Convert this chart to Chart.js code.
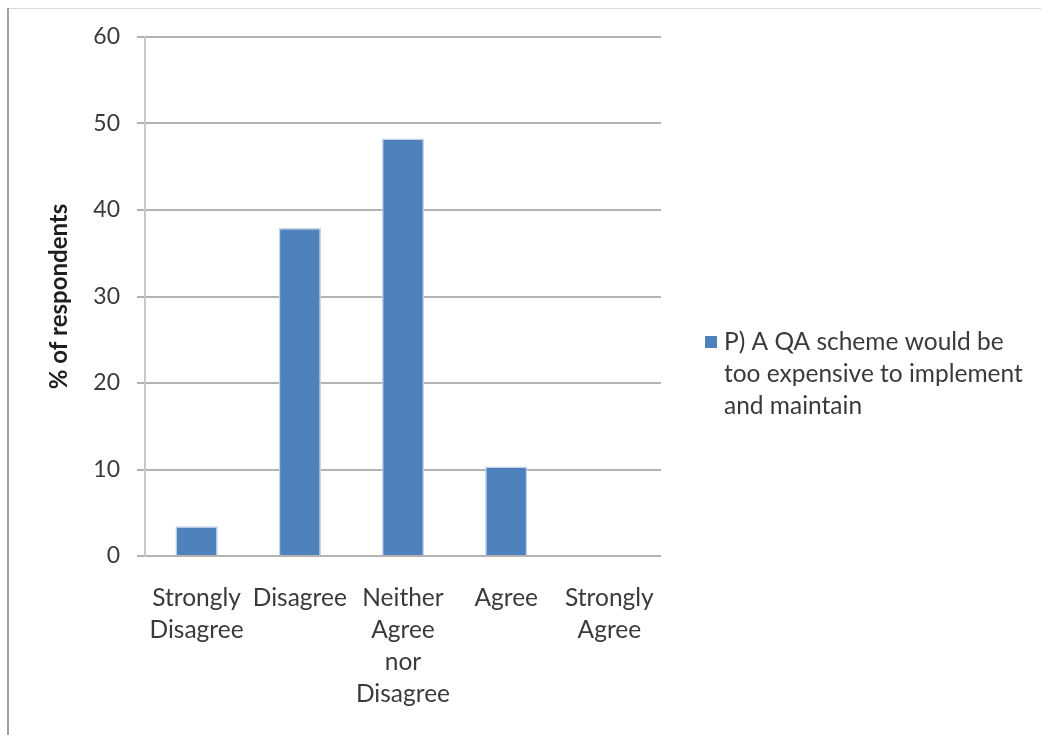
<!DOCTYPE html>
<html>
<head>
<meta charset="utf-8">
<script src="https://cdn.jsdelivr.net/npm/chart.js@4/dist/chart.umd.min.js"></script>
<style>
  html, body { margin: 0; padding: 0; background: #ffffff; }
  #wrap { position: absolute; left: 0; top: 0; width: 1041px; height: 735px; }
</style>
</head>
<body>
<div id="wrap"><canvas id="chart" width="1041" height="735"></canvas></div>
<script>
// Survey responses, % of respondents per answer
const categories = [
  ["Strongly", "Disagree"],
  ["Disagree"],
  ["Neither", "Agree", "nor", "Disagree"],
  ["Agree"],
  ["Strongly", "Agree"]
];
const seriesName = ["P) A QA scheme would be", "too expensive to implement", "and maintain"];
const respondentsPct = [3.45, 37.93, 48.28, 10.34, 0];
const yTicks = [0, 10, 20, 30, 40, 50, 60];

const FONT = "Lato, 'Open Sans', sans-serif";
const BAR_BLUE = "#4f81bd";
const TEXT = "#3a3a3a";

// Outer frame lines (left and top edges of the sheet)
const framePlugin = {
  id: "frame",
  beforeDraw(chart) {
    const ctx = chart.ctx;
    ctx.save();
    ctx.fillStyle = "#ffffff";
    ctx.fillRect(0, 0, chart.width, chart.height);
    ctx.fillStyle = "#d9d9d9";
    ctx.fillRect(8, 8, chart.width - 8, 1);
    ctx.fillStyle = "#a0a0a0";
    ctx.fillRect(7, 8, 2, chart.height - 8);
    ctx.restore();
  }
};

// Legend at the right with wrapped series name
const sideLegend = {
  id: "sideLegend",
  afterDraw(chart) {
    const ctx = chart.ctx;
    const ds = chart.data.datasets[0];
    const x0 = chart.chartArea.right + 44;
    const y0 = 342;
    const lh = 32;
    ctx.save();
    ctx.fillStyle = ds.backgroundColor;
    ctx.fillRect(x0, y0 - 6, 12, 12);
    ctx.fillStyle = TEXT;
    ctx.font = "24.5px " + FONT;
    ctx.textAlign = "left";
    ctx.textBaseline = "middle";
    ds.legendLines.forEach((line, i) => ctx.fillText(line, x0 + 19, y0 + i * lh));
    ctx.restore();
  }
};

new Chart(document.getElementById("chart"), {
  type: "bar",
  data: {
    labels: categories,
    datasets: [{
      label: seriesName.join(" "),
      legendLines: seriesName,
      data: respondentsPct,
      backgroundColor: BAR_BLUE,
      borderColor: "#c3d3ea",
      borderWidth: { top: 1.5, left: 1.5, right: 1.5, bottom: 0 },
      borderSkipped: "bottom",
      categoryPercentage: 1,
      barPercentage: 0.41
    }]
  },
  options: {
    responsive: false,
    animation: false,
    devicePixelRatio: 1,
    layout: { padding: { left: 0, top: 37, right: 380, bottom: 0 } },
    plugins: {
      legend: { display: false },
      tooltip: { enabled: false }
    },
    scales: {
      x: {
        grid: { display: false, drawTicks: false },
        border: { display: false },
        ticks: {
          autoSkip: false,
          maxRotation: 0,
          minRotation: 0,
          padding: 26,
          color: TEXT,
          font: { family: FONT, size: 24.5, lineHeight: 32 / 24.5 }
        },
        afterFit(scale) { scale.height = 179; }
      },
      y: {
        min: 0,
        max: 60,
        afterBuildTicks(scale) { scale.ticks = yTicks.map(v => ({ value: v })); },
        grid: { color: "#b3b3b3", lineWidth: 2, tickLength: 8, drawTicks: true },
        border: { color: "#c8c8c8", width: 2 },
        ticks: {
          padding: 17,
          color: TEXT,
          font: { family: FONT, size: 23 }
        },
        title: {
          display: true,
          text: "% of respondents",
          color: "#1e1e1e",
          padding: { top: 45, bottom: 0 },
          font: { family: FONT, size: 24, weight: "bold" }
        },
        afterFit(scale) { scale.width = 145; }
      }
    }
  },
  plugins: [framePlugin, sideLegend]
});
</script>
</body>
</html>
